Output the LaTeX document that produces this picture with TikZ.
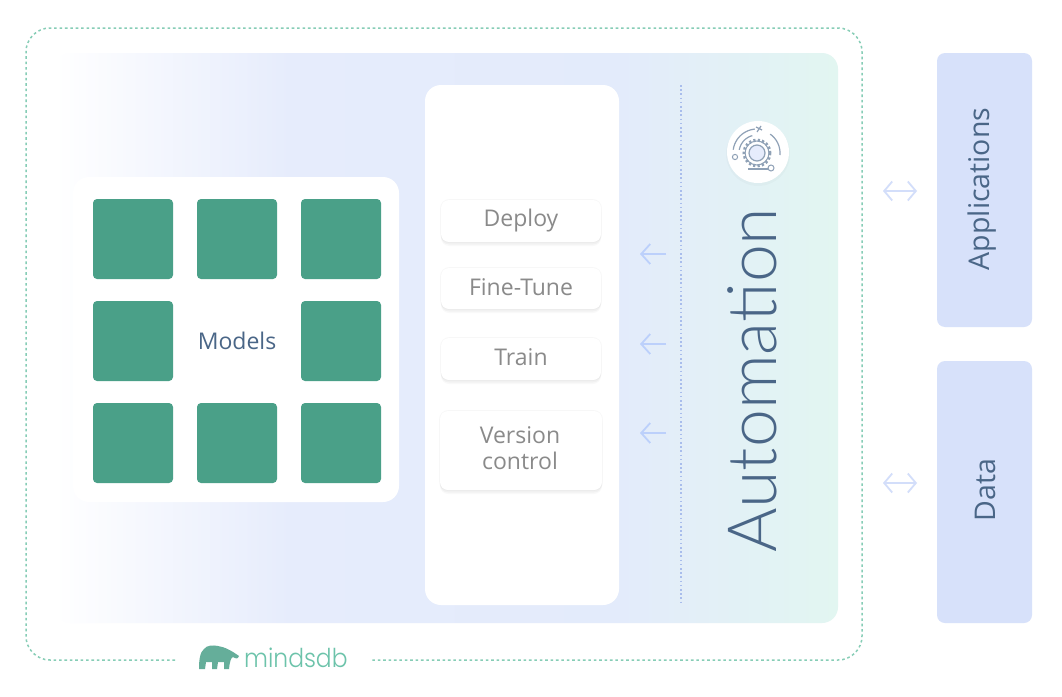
\documentclass[tikz,border=0pt]{standalone}
\usepackage{fontspec}
\setmainfont{Open Sans}
\newfontfamily\lightf{Lato Light}
\newfontfamily\logof{Poppins Light}
\usetikzlibrary{arrows.meta}
\definecolor{dotgreen}{HTML}{86CDB6}
\definecolor{tile}{HTML}{4AA088}
\definecolor{slateblue}{HTML}{4A6687}
\definecolor{sidefill}{HTML}{D7E1FA}
\definecolor{btntext}{HTML}{8A8A8A}
\definecolor{arrowblue}{HTML}{BCD0FB}
\definecolor{arrowpale}{HTML}{D3DEFA}
\definecolor{dotblue}{HTML}{A9BDEC}
\definecolor{iconline}{HTML}{8FA1B6}
\definecolor{logotext}{HTML}{6CC3AA}
\definecolor{gradmid}{HTML}{E6ECFC}
\definecolor{gradmidb}{HTML}{E3EBFB}
\definecolor{gradend}{HTML}{E2F6F1}
\pgfdeclarehorizontalshading{panelgrad}{100bp}{
  color(0bp)=(white);
  color(25bp)=(white);
  color(40bp)=(gradmid);
  color(61bp)=(gradmidb);
  color(75bp)=(gradend);
  color(100bp)=(gradend)}
\tikzset{
  x=1pt,y=-1pt,
  tilebox/.style={fill=tile,rounded corners=4pt},
  whitebox/.style={fill=white,rounded corners=16pt},
  sidebox/.style={fill=sidefill,rounded corners=8pt},
  softshadow/.style={
    preaction={fill=black,fill opacity=.025,transform canvas={yshift=-4pt}},
    preaction={fill=black,fill opacity=.03,transform canvas={yshift=-2.5pt}},
    preaction={draw=black!50,draw opacity=.06,line width=1.6pt}},
  btn/.style={fill=white,rounded corners=8pt,softshadow},
  btnlabel/.style={text=btntext,font=\fontsize{23}{26}\selectfont,align=center},
  sidelabel/.style={text=slateblue,font=\fontsize{28.5}{30}\selectfont,rotate=90},
  leftarrow/.style={draw=arrowblue,line width=1.8pt,-{Straight Barb[length=9pt,width=20pt,line width=1.8pt]}},
  bothways/.style={draw=arrowpale,line width=1.8pt,{Straight Barb[length=8pt,width=19pt,line width=1.8pt]}-{Straight Barb[length=8pt,width=19pt,line width=1.8pt]}},
  iconstroke/.style={iconline,line width=1.2pt},
}
\begin{document}
\begin{tikzpicture}
\useasboundingbox (0,0) rectangle (1062,696);
\fill[white] (0,0) rectangle (1062,696);

% outer dotted frame with a gap for the logo
\draw[dotgreen,line width=1.5pt,dash pattern=on 2.6pt off 2.8pt,rounded corners=24pt]
  (175,660) -- (26,660) -- (26,28) -- (862,28) -- (862,660) -- (370,660);

% gradient panel
\shade[shading=panelgrad,rounded corners=16pt] (55,53) rectangle (838,623);

% middle column
\fill[whitebox] (425,85) rectangle (619,605);

% models panel
\fill[whitebox] (73,177) rectangle (399,502);
\foreach \cx/\cy in {93/199,197/199,301/199,93/301,301/301,93/403,197/403,301/403}
  \fill[tilebox] (\cx,\cy) rectangle ++(80,80);
\node[text=slateblue,font=\fontsize{23}{28}\selectfont] (models) at (237,341) {Models};

% buttons
\fill[btn] (441,200) rectangle (601,242);
\node[btnlabel] (deploy) at (521,221) {Deploy};
\fill[btn] (441,268) rectangle (601,309);
\node[btnlabel] (finetune) at (521,287) {Fine-Tune};
\fill[btn] (441,338) rectangle (601,380);
\node[btnlabel] (train) at (521,357) {Train};
\fill[btn] (440,411) rectangle (602,490);
\node[btnlabel,text width=150pt] (version) at (520,448) {Version\\control};

% dotted separator
\coordinate (septop) at (681,85);
\coordinate (sepbot) at (681,605);
\draw[dotblue,line width=1.4pt,dash pattern=on 1.6pt off 2.6pt] (septop) -- (sepbot);

% left arrows
\foreach \n/\y in {a/254,b/344,c/433}{
  \coordinate (\n from) at (666,\y);
  \coordinate (\n to) at (640,\y);
  \draw[leftarrow] (\n from) -- (\n to);
}

% automation icon
\fill[black,opacity=.02] (758,154) circle (32);
\fill[white] (758,152) circle (31);
\fill[gradmid] (757,153) circle (8);
\draw[iconstroke] (757,153) circle (8);
\draw[iconline,line width=3pt,dash pattern=on 2.2pt off 2.2pt] (757,153) circle (13);
\draw[iconline,line width=1pt] (757,153) circle (12);
\draw[iconstroke,domain=95:172,samples=16,smooth,variable=\t] plot ({757+24*cos(\t)},{153-24*sin(\t)});
\draw[iconstroke,domain=105:170,samples=14,smooth,variable=\t] plot ({757+18*cos(\t)},{153-18*sin(\t)});
\draw[iconstroke,domain=-5:55,samples=12,smooth,variable=\t] plot ({757+23*cos(\t)},{153-23*sin(\t)});
\fill[white] (735,157) circle (2.6);\draw[iconline,line width=1pt] (735,157) circle (2.6);
\fill[white] (771,168) circle (3);\draw[iconline,line width=1pt] (771,168) circle (3);
\draw[iconstroke] (748,169) -- (768,169);
\draw[iconstroke] (756,127) -- (762,130) (761,126) -- (757,132);

\node[text=slateblue,font=\lightf\fontsize{68}{72}\selectfont,rotate=90,inner sep=0] (automation) at (752,380) {Automation};

% side boxes
\fill[sidebox] (937,53) rectangle (1032,327);
\node[sidelabel] (applications) at (982,189) {Applications};
\fill[sidebox] (937,361) rectangle (1032,623);
\node[sidelabel] (data) at (985,490) {Data};

\foreach \n/\y in {p/191,q/483}{
  \coordinate (\n l) at (883,\y);
  \coordinate (\n r) at (917,\y);
  \draw[bothways] (\n l) -- (\n r);
}

% logo
\fill[tile!85!white] (199,669) .. controls (199,660) and (200,652) .. (204,649)
  .. controls (207,645) and (213,645) .. (218,646)
  .. controls (225,647) and (232,651) .. (239,656)
  .. controls (238,659) and (236,659) .. (233,657)
  .. controls (231,658) and (230,660) .. (229,669)
  -- (224,669) -- (224,662) -- (218,662) -- (217,669)
  -- (212,669) -- (212,662) -- (206,662) -- (205,669) -- cycle;
\node[text=logotext,font=\logof\fontsize{26}{30}\selectfont,inner sep=0,anchor=base west,xscale=.9] (logo) at (244,667) {mindsdb};
\end{tikzpicture}
\end{document}
